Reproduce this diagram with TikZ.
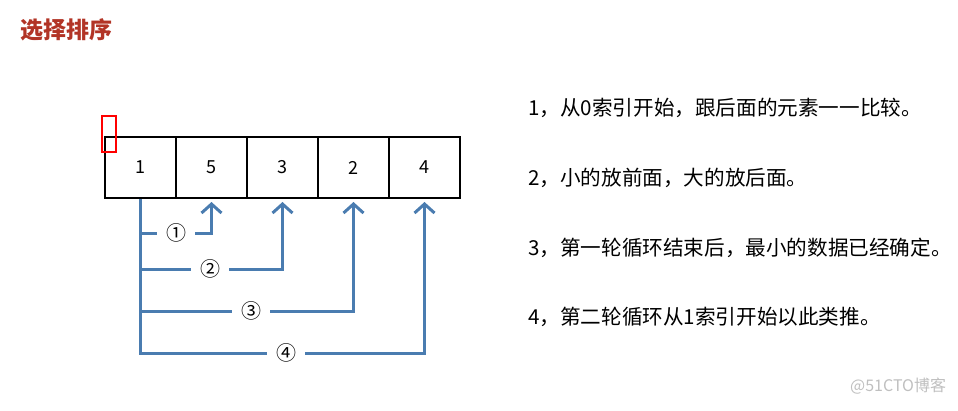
\documentclass[tikz,border=0pt]{standalone}
\usepackage{fontspec}
\newfontfamily\cjk{Noto Sans CJK SC}
\usetikzlibrary{arrows.meta}
\definecolor{titlered}{RGB}{178,52,38}
\definecolor{flowblue}{RGB}{74,124,176}
\tikzset{
  cell/.style={draw, line width=2pt, minimum width=71pt, minimum height=61pt,
    inner sep=0pt, font=\cjk\fontsize{18}{18}\selectfont},
  pass/.style={minimum width=38pt, inner sep=0pt, font=\cjk\fontsize{20}{20}\selectfont},
  flow/.style={flowblue, line width=3pt},
  flowtip/.style={flow, -{Straight Barb[length=9pt, width=20pt]}, shorten >=3pt},
  note/.style={anchor=west, inner sep=0pt, font=\cjk\fontsize{20.6}{20.6}\selectfont},
}

\begin{document}
\begin{tikzpicture}[x=1pt, y=-1pt]
\useasboundingbox (0,0) rectangle (958,410);

% title
\node[anchor=west, inner sep=0pt, text=titlered,
  font=\cjk\bfseries\fontsize{23}{23}\selectfont] (title) at (20,30) {选择排序};

% array
\foreach \val [count=\i] in {1,5,3,2,4}{
  \node[cell] (c\i) at (105+71*\i-35.5,167.5) {\val};
}
\draw[red, line width=2pt] (102,116) rectangle (116,152);

% passes
\node[pass] (p1) at (176,233) {①};
\node[pass] (p2) at (210,269) {②};
\node[pass] (p3) at (251,311) {③};
\node[pass] (p4) at (286,353) {④};
\foreach \k [evaluate=\k as \j using int(\k+1)] in {1,...,4}{
  \draw[flow] (c1.south) |- (p\k.west);
  \draw[flowtip] (p\k.east) -| (c\j.south);
}

% notes
\node[note] (n1) at (528,108) {1，从0索引开始，跟后面的元素一一比较。};
\node[note] (n2) at (528,178) {2，小的放前面，大的放后面。};
\node[note] (n3) at (528,248) {3，第一轮循环结束后，最小的数据已经确定。};
\node[note] (n4) at (528,317) {4，第二轮循环从1索引开始以此类推。};

\node[anchor=west, inner sep=0pt, text=black!25,
  font=\cjk\fontsize{16}{16}\selectfont] (mark) at (850,386) {@51CTO博客};
\end{tikzpicture}
\end{document}
